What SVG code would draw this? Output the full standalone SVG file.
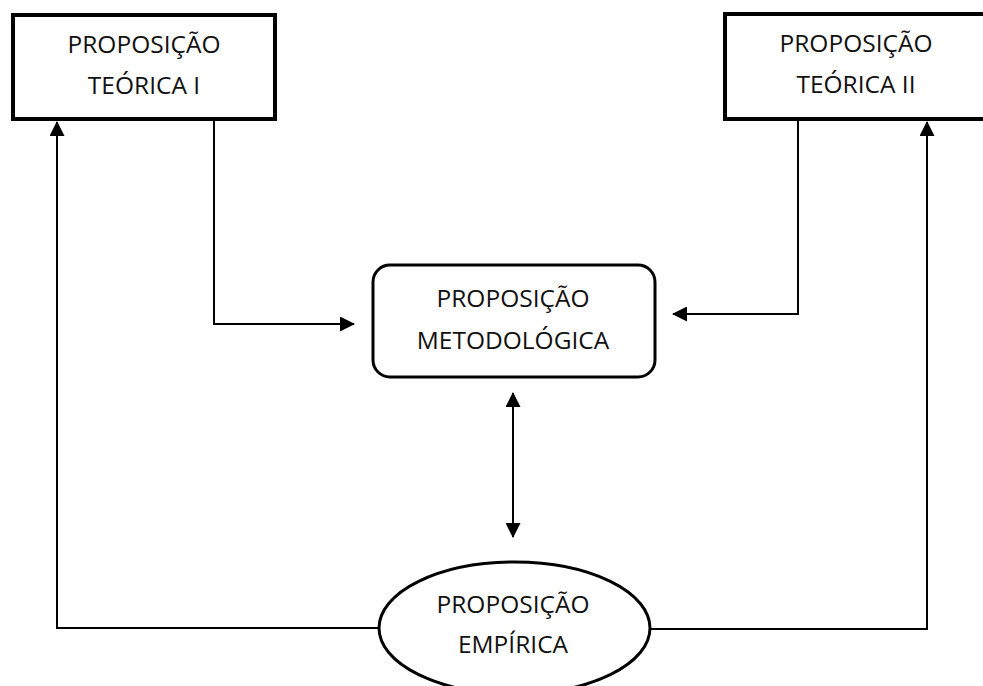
<svg xmlns="http://www.w3.org/2000/svg" width="983" height="686" viewBox="0 0 983 686">
  <style>
    .box { fill: #ffffff; stroke: #000000; stroke-width: 4; }
    .rbox { fill: #ffffff; stroke: #000000; stroke-width: 3; }
    .conn { fill: none; stroke: #000000; stroke-width: 2; }
    .lbl { font-family: "Open Sans", "Liberation Sans", sans-serif; font-size: 24.5px; fill: #111111; text-anchor: middle; }
  </style>
  <defs>
    <marker id="ah" markerUnits="userSpaceOnUse" markerWidth="15" markerHeight="15" refX="14" refY="7.5" orient="auto-start-reverse" viewBox="0 0 15 15">
      <path d="M0,0 L15,7.5 L0,15 z" fill="#000000"/>
    </marker>
  </defs>
  <rect x="0" y="0" width="983" height="686" fill="#ffffff"/>

  <g id="connectors">
    <path class="conn" d="M214,121 V324 H354" marker-end="url(#ah)"/>
    <path class="conn" d="M798,121 V314 H673" marker-end="url(#ah)"/>
    <line class="conn" x1="513" y1="393" x2="513" y2="537" marker-start="url(#ah)" marker-end="url(#ah)"/>
    <path class="conn" d="M380,628 H57 V122" marker-end="url(#ah)"/>
    <path class="conn" d="M649,629 H927 V122" marker-end="url(#ah)"/>
  </g>

  <g id="teorica1">
    <rect class="box" x="13" y="15" width="262" height="104"/>
    <text class="lbl" x="144" y="53">PROPOSIÇÃO</text>
    <text class="lbl" x="144" y="94">TEÓRICA I</text>
  </g>

  <g id="teorica2">
    <rect class="box" x="725" y="14" width="270" height="105"/>
    <text class="lbl" x="856" y="52">PROPOSIÇÃO</text>
    <text class="lbl" x="856" y="93">TEÓRICA II</text>
  </g>

  <g id="metodologica">
    <rect class="rbox" x="373" y="265" width="282" height="112" rx="17" ry="17"/>
    <text class="lbl" x="513" y="307">PROPOSIÇÃO</text>
    <text class="lbl" x="513" y="349">METODOLÓGICA</text>
  </g>

  <g id="empirica">
    <ellipse class="rbox" cx="514.5" cy="628" rx="135.5" ry="66"/>
    <text class="lbl" x="513" y="613">PROPOSIÇÃO</text>
    <text class="lbl" x="513" y="653">EMPÍRICA</text>
  </g>
</svg>
